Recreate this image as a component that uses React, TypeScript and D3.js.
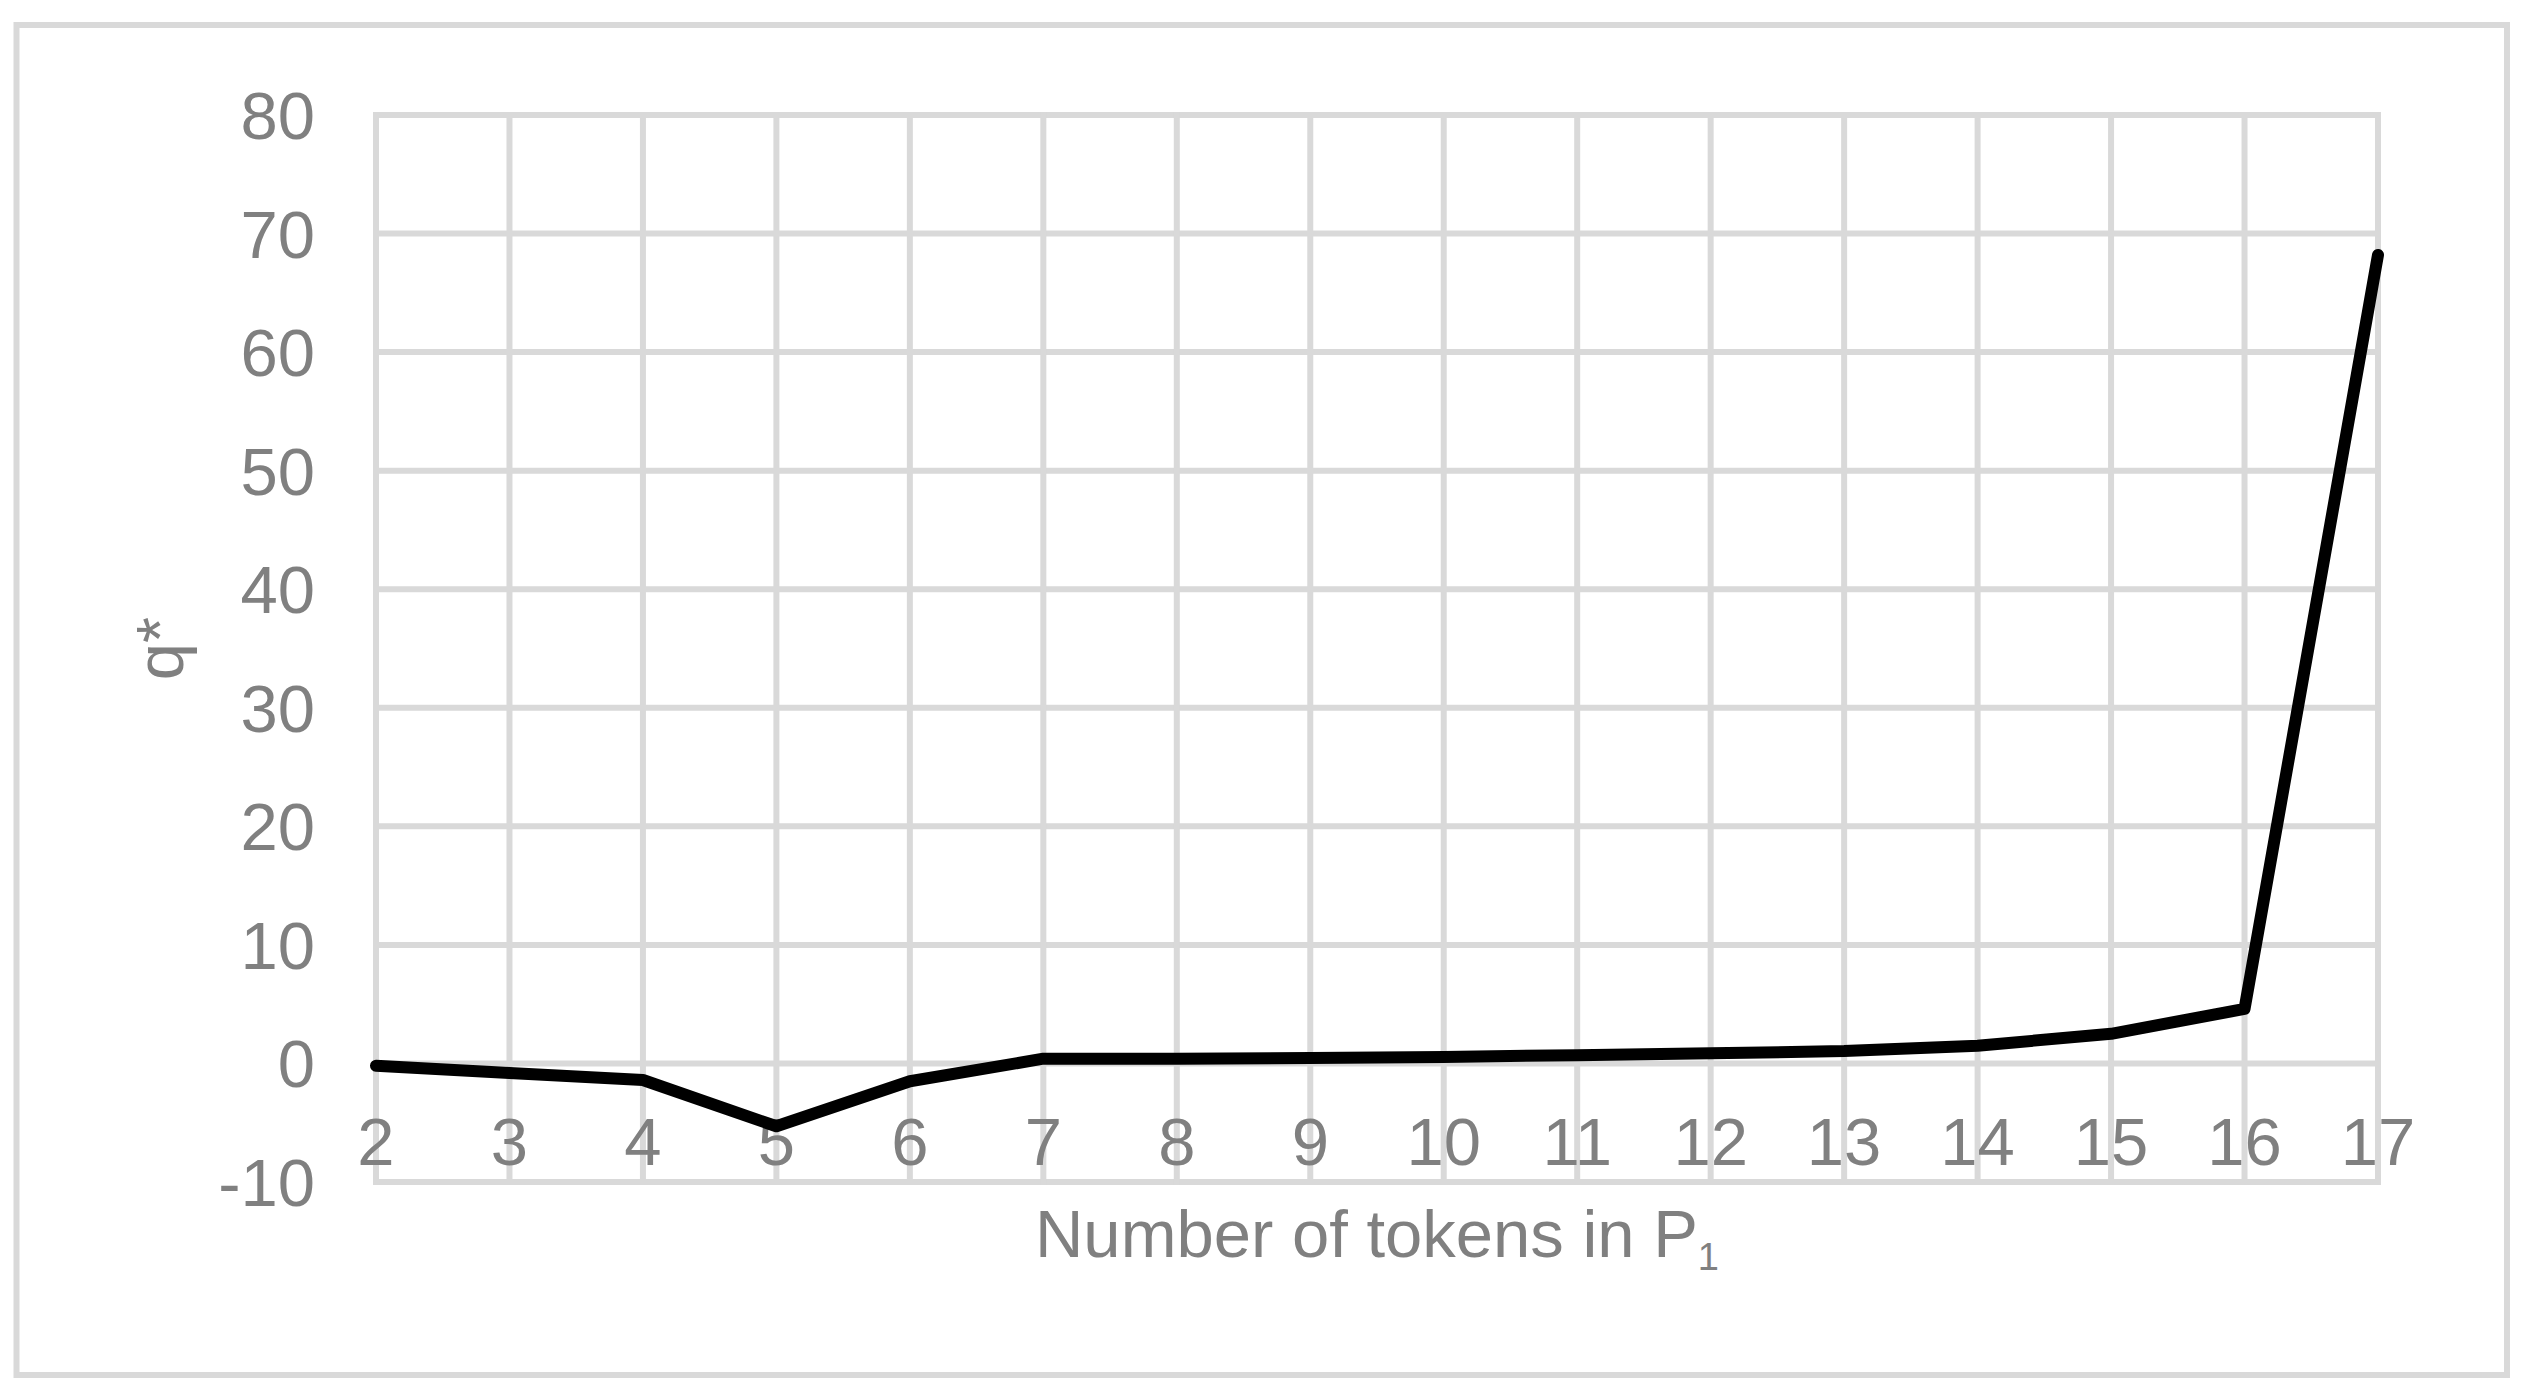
import React, { useEffect, useRef } from "react";
import * as d3 from "d3";

// data
const tokens = [2, 3, 4, 5, 6, 7, 8, 9, 10, 11, 12, 13, 14, 15, 16, 17];
const qStar = [-0.2, -0.8, -1.4, -5.3, -1.5, 0.4, 0.4, 0.45, 0.55, 0.7, 0.85, 1.05, 1.5, 2.5, 4.6, 68.2];
const yTicks = [-10, 0, 10, 20, 30, 40, 50, 60, 70, 80];

const W = 2537;
const H = 1397;
const FONT = "'Liberation Sans', Arial, sans-serif";
const GRID = "#d9d9d9";
const TEXT = "#808080";

const App = () => {
  const ref = useRef<SVGSVGElement>(null);

  useEffect(() => {
    const svg = d3.select(ref.current);
    svg.selectAll("*").remove();

    const plot = { left: 376, right: 2378, top: 115, bottom: 1182 };

    const x = d3.scaleLinear().domain([2, 17]).range([plot.left, plot.right]);
    const y = d3.scaleLinear().domain([-10, 80]).range([plot.bottom, plot.top]);

    // outer chart border
    svg.append("rect")
      .attr("x", 16.5).attr("y", 25)
      .attr("width", 2507 - 16.5).attr("height", 1375 - 25)
      .attr("fill", "#fff")
      .attr("stroke", GRID)
      .attr("stroke-width", 6);

    const g = svg.append("g");

    // gridlines
    g.selectAll("line.h")
      .data(yTicks)
      .join("line")
      .attr("class", "h")
      .attr("x1", plot.left - 3).attr("x2", plot.right + 3)
      .attr("y1", d => y(d)).attr("y2", d => y(d))
      .attr("stroke", GRID).attr("stroke-width", 6);

    g.selectAll("line.v")
      .data(tokens)
      .join("line")
      .attr("class", "v")
      .attr("x1", d => x(d)).attr("x2", d => x(d))
      .attr("y1", plot.top - 3).attr("y2", plot.bottom + 3)
      .attr("stroke", GRID).attr("stroke-width", 6);

    // y tick labels
    g.selectAll("text.yl")
      .data(yTicks)
      .join("text")
      .attr("class", "yl")
      .attr("x", 315)
      .attr("y", d => y(d) + 24)
      .attr("text-anchor", "end")
      .attr("font-family", FONT)
      .attr("font-size", 67)
      .attr("fill", TEXT)
      .text(d => d);

    // x tick labels sit under the zero line
    g.selectAll("text.xl")
      .data(tokens)
      .join("text")
      .attr("class", "xl")
      .attr("x", d => x(d))
      .attr("y", y(0) + 102)
      .attr("text-anchor", "middle")
      .attr("font-family", FONT)
      .attr("font-size", 67)
      .attr("fill", TEXT)
      .text(d => d);

    // the series
    const line = d3.line<number>()
      .x((d, i) => x(tokens[i]))
      .y(d => y(d));

    g.append("path")
      .datum(qStar)
      .attr("d", line)
      .attr("fill", "none")
      .attr("stroke", "#000")
      .attr("stroke-width", 12)
      .attr("stroke-linejoin", "round")
      .attr("stroke-linecap", "round");

    // axis titles
    const xt = g.append("text")
      .attr("x", (plot.left + plot.right) / 2)
      .attr("y", 1257)
      .attr("text-anchor", "middle")
      .attr("font-family", FONT)
      .attr("font-size", 67)
      .attr("fill", TEXT);
    xt.append("tspan").text("Number of tokens in P");
    xt.append("tspan").attr("font-size", 38).attr("dy", 13).text("1");

    g.append("text")
      .attr("transform", `translate(183,${(plot.top + plot.bottom) / 2}) rotate(-90)`)
      .attr("text-anchor", "middle")
      .attr("font-family", FONT)
      .attr("font-size", 67)
      .attr("fill", TEXT)
      .text("q*");
  }, []);

  return (
    <svg
      ref={ref}
      width={W}
      height={H}
      style={{ position: "absolute", left: 0, top: 0, display: "block", background: "#fff" }}
    />
  );
};

export default App;
